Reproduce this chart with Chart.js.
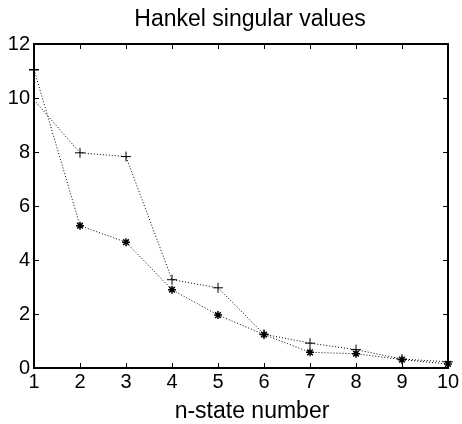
<!DOCTYPE html>
<html>
<head>
<meta charset="utf-8">
<script src="https://cdn.jsdelivr.net/npm/chart.js@4.4.1/dist/chart.umd.min.js"></script>
<style>
  html, body { margin: 0; padding: 0; background: #fff; }
  #wrap { width: 462px; height: 424px; }
</style>
</head>
<body>
<div id="wrap"><canvas id="myChart" width="462" height="424"></canvas></div>
<script>
// n-state 번호 (x축)
let stateNumbers = [1, 2, 3, 4, 5, 6, 7, 8, 9, 10];
// 점선 두 개: 첫 점에서 서로 엇갈려 시작함
let starLine = [11.05, 5.27, 4.66, 2.9, 1.96, 1.24, 0.58, 0.53, 0.31, 0.15];
let plusLine = [9.93, 7.97, 7.83, 3.27, 2.97, 1.25, 0.92, 0.68, 0.33, 0.23];
let yTicks = [0, 2, 4, 6, 8, 10, 12];
let titleText = "Hankel singular values";
let xLabelText = "n-state number";

const FONT = "'Liberation Sans', Arial, sans-serif";

function toPoints(values) {
  return stateNumbers.map(function (n, i) {
    return { x: n, y: values[i] };
  });
}

// 프레임 + 안쪽 눈금 (네 변 모두), 제목과 x축 라벨
const boxTicks = {
  id: "boxTicks",
  beforeDatasetsDraw(chart) {
    let ctx = chart.ctx;
    let a = chart.chartArea;
    let xs = chart.scales.x;
    let ys = chart.scales.y;
    let len = 5;
    ctx.save();
    ctx.strokeStyle = "#000";
    ctx.lineWidth = 1;
    ctx.beginPath();
    stateNumbers.forEach(function (n) {
      let px = Math.round(xs.getPixelForValue(n)) + 0.5;
      ctx.moveTo(px, a.bottom);
      ctx.lineTo(px, a.bottom - len);
      ctx.moveTo(px, a.top);
      ctx.lineTo(px, a.top + len);
    });
    yTicks.forEach(function (v) {
      let py = Math.round(ys.getPixelForValue(v)) + 0.5;
      ctx.moveTo(a.left, py);
      ctx.lineTo(a.left + len, py);
      ctx.moveTo(a.right, py);
      ctx.lineTo(a.right - len, py);
    });
    ctx.stroke();
    ctx.lineWidth = 2;
    ctx.strokeRect(a.left, a.top, a.right - a.left, a.bottom - a.top);
    ctx.restore();
  },
  afterDraw(chart) {
    let ctx = chart.ctx;
    let a = chart.chartArea;
    let cx = (a.left + a.right) / 2 + 9;
    ctx.save();
    ctx.fillStyle = "#000";
    ctx.textAlign = "center";
    ctx.textBaseline = "alphabetic";
    ctx.font = "23px " + FONT;
    ctx.fillText(titleText, cx, 26);
    ctx.fillText(xLabelText, cx + 2, chart.height - 6);
    ctx.restore();
  },
};

let ctx = document.getElementById("myChart").getContext("2d");
let myChart = new Chart(ctx, {
  type: "line",
  data: {
    datasets: [
      {
        label: "star",
        data: toPoints(starLine),
        borderColor: "#000",
        borderWidth: 1,
        borderDash: [1, 2],
        pointStyle: starLine.map(function (v, i) {
          return i === 0 ? "cross" : "star";
        }),
        pointRadius: starLine.map(function (v, i) {
          return i === 0 ? 5 : 4;
        }),
        pointBorderColor: "#000",
        pointBorderWidth: 1.5,
        fill: false,
        tension: 0,
        clip: false,
      },
      {
        label: "plus",
        data: toPoints(plusLine),
        borderColor: "#000",
        borderWidth: 1,
        borderDash: [1, 2],
        pointStyle: "cross",
        pointRadius: plusLine.map(function (v, i) {
          return i === 0 ? 0 : 5;
        }),
        pointBorderColor: "#000",
        pointBorderWidth: 1,
        fill: false,
        tension: 0,
        clip: false,
      },
    ],
  },
  plugins: [boxTicks],
  options: {
    responsive: false,
    animation: false,
    events: [],
    layout: { padding: { left: 0, right: 14, top: 44, bottom: 0 } },
    plugins: {
      legend: { display: false },
      tooltip: { enabled: false },
      title: { display: false },
    },
    scales: {
      x: {
        type: "linear",
        min: 1,
        max: 10,
        grid: { display: false, drawTicks: false },
        border: { display: false },
        ticks: {
          stepSize: 1,
          padding: 2,
          color: "#000",
          font: { family: FONT, size: 20 },
        },
        afterFit: function (scale) {
          scale.height = 56;
        },
      },
      y: {
        min: 0,
        max: 12,
        grid: { display: false, drawTicks: false },
        border: { display: false },
        ticks: {
          stepSize: 2,
          padding: 4,
          color: "#000",
          font: { family: FONT, size: 20 },
        },
        afterFit: function (scale) {
          scale.width = 34;
        },
      },
    },
  },
});
</script>
</body>
</html>
